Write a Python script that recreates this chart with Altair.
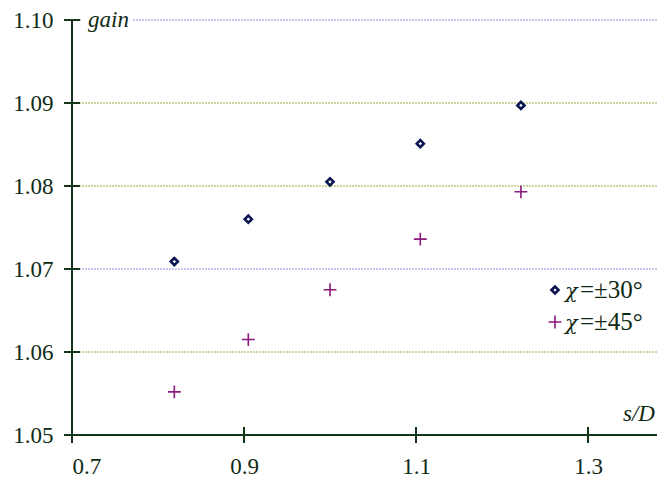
import altair as alt
import pandas as pd

# data
s_over_d = [0.819, 0.905, 1.0, 1.105, 1.222]
gain_30 = [1.0709, 1.0760, 1.0805, 1.0851, 1.0897]
gain_45 = [1.0552, 1.0615, 1.0675, 1.0736, 1.0793]
y_ticks = [1.05, 1.06, 1.07, 1.08, 1.09, 1.10]
x_ticks = [0.7, 0.9, 1.1, 1.3]
grid_green = [1.06, 1.08, 1.09]
grid_blue = [1.07, 1.10]

W, H = 585, 415
AX = "#12351a"
LBL = "#0f2a14"
FONT = "Liberation Serif"
PLUS = "M-1,0L1,0M0,-1L0,1"

xs = alt.Scale(domain=[0.7, 0.7 + W / 860], nice=False, zero=False)
ys = alt.Scale(domain=[1.05, 1.10], nice=False, zero=False)

pts = pd.DataFrame({"x": s_over_d, "g30": gain_30, "g45": gain_45})
yt = pd.DataFrame({"y": y_ticks})
xt = pd.DataFrame({"x": x_ticks})

grid_g = alt.Chart(pd.DataFrame({"y": grid_green})).mark_rule(
    strokeDash=[2, 1], strokeWidth=1, color="#9aae3a").encode(
    y=alt.Y("y:Q", scale=ys,
            axis=alt.Axis(values=y_ticks, format=".2f", ticks=False, grid=False,
                          domain=False, labelFont=FONT, labelFontSize=23,
                          labelColor=LBL, labelPadding=19, title=None)))

grid_b = alt.Chart(pd.DataFrame({"y": grid_blue})).mark_rule(
    strokeDash=[2, 1], strokeWidth=1, color="#9090d8").encode(
    y=alt.Y("y:Q", scale=ys))

# white box behind 'gain'
gain_bg = alt.Chart(pd.DataFrame({"a": [0]})).mark_rect(color="white").encode(
    x=alt.value(10), x2=alt.value(60), y=alt.value(-8), y2=alt.value(8))

gain_txt = alt.Chart(pd.DataFrame({"t": ["gain"]})).mark_text(
    font=FONT, fontSize=23, fontStyle="italic", align="left", baseline="middle",
    color=LBL).encode(text="t:N", x=alt.value(16), y=alt.value(0))

sd_txt = alt.Chart(pd.DataFrame({"t": ["s/D"]})).mark_text(
    font=FONT, fontSize=23, fontStyle="italic", align="left", baseline="middle",
    color=LBL).encode(text="t:N", x=alt.value(551), y=alt.value(394))

x_axis_line = alt.Chart(pd.DataFrame({"a": [0]})).mark_rule(color=AX, strokeWidth=2).encode(
    x=alt.value(0), x2=alt.value(W), y=alt.value(H))
y_axis_line = alt.Chart(pd.DataFrame({"a": [0]})).mark_rule(color=AX, strokeWidth=2).encode(
    x=alt.value(0), y=alt.value(0), y2=alt.value(H))

y_tick_marks = alt.Chart(yt).mark_rule(color=AX, strokeWidth=2).encode(
    y=alt.Y("y:Q", scale=ys), x=alt.value(-8), x2=alt.value(8))

x_tick_marks = alt.Chart(xt).mark_rule(color=AX, strokeWidth=2).encode(
    x=alt.X("x:Q", scale=xs,
            axis=alt.Axis(values=x_ticks, format=".1f", ticks=False, grid=False,
                          domain=False, labelFont=FONT, labelFontSize=23,
                          labelColor=LBL, labelPadding=20, title=None)),
    y=alt.value(H - 8), y2=alt.value(H + 8))

diamonds = alt.Chart(pts).mark_point(shape="diamond", filled=False, size=50,
                                     strokeWidth=2.6, color="#0a1450", opacity=1).encode(
    x=alt.X("x:Q", scale=xs), y=alt.Y("g30:Q", scale=ys))

crosses = alt.Chart(pts).mark_point(shape=PLUS, filled=False, size=165,
                                    strokeWidth=1.6, color="#8a1a7c", opacity=1).encode(
    x=alt.X("x:Q", scale=xs), y=alt.Y("g45:Q", scale=ys))

leg = pd.DataFrame({"a": [0]})
leg_d = alt.Chart(leg).mark_point(shape="diamond", filled=False, size=50, strokeWidth=2.6,
                                  color="#0a1450", opacity=1).encode(
    x=alt.value(483), y=alt.value(270))
leg_c = alt.Chart(leg).mark_point(shape=PLUS, filled=False, size=165, strokeWidth=1.6,
                                  color="#8a1a7c", opacity=1).encode(
    x=alt.value(483), y=alt.value(302))

def chi(yv, rest):
    a = alt.Chart(pd.DataFrame({"t": ["χ"]})).mark_text(
        font="DejaVu Serif", fontSize=21, fontStyle="italic", align="left", baseline="middle",
        color=LBL).encode(text="t:N", x=alt.value(493), y=alt.value(yv + 2))
    b = alt.Chart(pd.DataFrame({"t": [rest]})).mark_text(
        font=FONT, fontSize=25, align="left", baseline="middle",
        color=LBL).encode(text="t:N", x=alt.value(508), y=alt.value(yv))
    return a + b

chart = alt.layer(
    grid_g, grid_b, gain_bg, gain_txt, sd_txt, x_axis_line, y_axis_line,
    y_tick_marks, x_tick_marks, diamonds, crosses, leg_d, leg_c,
    chi(270, "=±30°"), chi(302, "=±45°"),
).properties(
    width=W, height=H,
    background="white",
    autosize=alt.AutoSizeParams(type="none"),
    padding={"left": 64, "top": 12, "right": 0, "bottom": 45},
).configure(font=FONT).configure_view(stroke=None)

chart.save("out.html", embed_options={"renderer": "svg", "actions": False})
